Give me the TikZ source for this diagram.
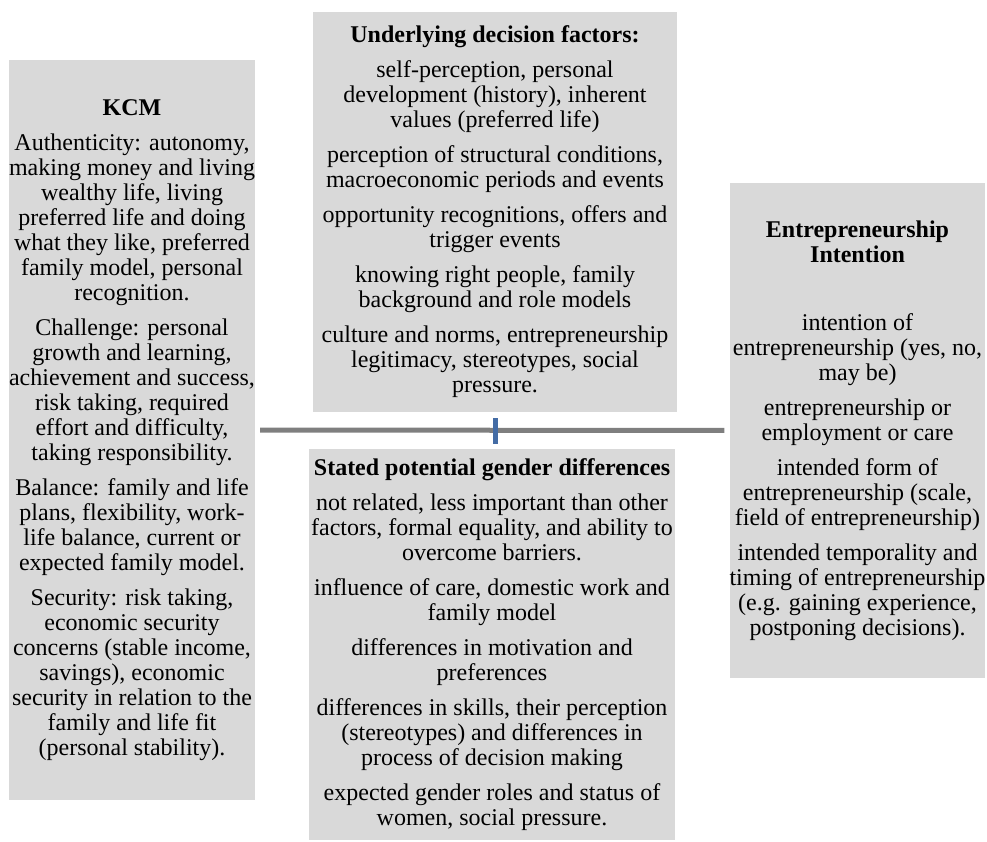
\documentclass[tikz,border=0pt]{standalone}
\usepackage{fontspec}
\setmainfont{Liberation Serif}
\usepackage{tikz}
\usepackage{color}

\definecolor{boxgray}{RGB}{217,217,217}
\definecolor{linegray}{RGB}{127,127,127}
\definecolor{tickblue}{RGB}{68,108,165}

\begin{document}
\begin{tikzpicture}[x=1pt,y=-1pt,
  box/.style={rectangle,fill=boxgray,align=center,inner sep=0pt,font=\fontsize{24}{25}\selectfont},
  link/.style={draw=linegray,line width=5pt},
  tick/.style={draw=tickblue,line width=5pt}]
\useasboundingbox (0,0) rectangle (987,842);

\node [box,minimum width=244pt,minimum height=740pt] (kcm) at (132,430) {
  \textbf{KCM}\\[10pt]
  Authenticity: autonomy,\\ making money and living\\ wealthy life, living\\ preferred life and doing\\
  what they like, preferred\\ family model, personal\\ recognition.\\[10pt]
  Challenge: personal\\ growth and learning,\\ achievement and success,\\ risk taking, required\\
  effort and difficulty,\\ taking responsibility.\\[10pt]
  Balance: family and life\\ plans, flexibility, work-\\ life balance, current or\\ expected family model.\\[10pt]
  Security: risk taking,\\ economic security\\ concerns (stable income,\\ savings), economic\\
  security in relation to the\\ family and life fit\\ (personal stability).};

\node [box,minimum width=364pt,minimum height=400pt] (factors) at (495,212) {
  \textbf{Underlying decision factors:}\\[10pt]
  self-perception, personal\\ development (history), inherent\\ values (preferred life)\\[10pt]
  perception of structural conditions,\\ macroeconomic periods and events\\[10pt]
  opportunity recognitions, offers and\\ trigger events\\[10pt]
  knowing right people, family\\ background and role models\\[10pt]
  culture and norms, entrepreneurship\\ legitimacy, stereotypes, social\\ pressure.};

\node [box,minimum width=366pt,minimum height=391pt] (gender) at (492,644.5) {
  \textbf{Stated potential gender differences}\\[10pt]
  not related, less important than other\\ factors, formal equality, and ability to\\ overcome barriers.\\[10pt]
  influence of care, domestic work and\\ family model\\[10pt]
  differences in motivation and\\ preferences\\[10pt]
  differences in skills, their perception\\ (stereotypes) and differences in\\ process of decision making\\[10pt]
  expected gender roles and status of\\ women, social pressure.};

\node [box,minimum width=255pt,minimum height=495pt] (intent) at (857.5,430.5) {
  \textbf{Entrepreneurship}\\ \textbf{Intention}\\[43pt]
  intention of\\ entrepreneurship (yes, no,\\ may be)\\[10pt]
  entrepreneurship or\\ employment or care\\[10pt]
  intended form of\\ entrepreneurship (scale,\\ field of entrepreneurship)\\[10pt]
  intended temporality and\\ timing of entrepreneurship\\ (e.g. gaining experience,\\ postponing decisions).};

% horizontal connector and the small vertical mark on it
\draw [link,shorten <=5pt,shorten >=5pt] (kcm.east) -- (intent.west);
\draw [tick,shorten <=6pt,shorten >=5pt] (factors.south) -- (factors.south |- gender.north);
\end{tikzpicture}
\end{document}
